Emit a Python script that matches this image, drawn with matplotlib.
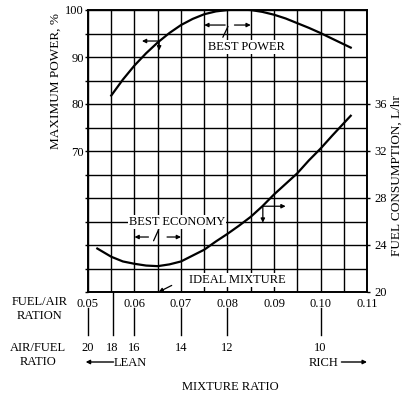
import numpy as np
import matplotlib
matplotlib.use("Agg")
import matplotlib.pyplot as plt

plt.rcParams['font.family'] = ['Liberation Serif', 'DejaVu Serif']
plt.rcParams['font.size'] = 9

# fuel/air ratio vs % of maximum power (left axis)
power_x = [0.055, 0.0575, 0.06, 0.0625, 0.065, 0.0675, 0.07, 0.0725, 0.075, 0.0775,
           0.08, 0.0825, 0.085, 0.0875, 0.09, 0.0925, 0.095, 0.0975, 0.10, 0.1025, 0.1065]
power_y = [81.8, 85.2, 88.2, 90.8, 93.1, 95.1, 96.8, 98.1, 99.1, 99.7,
           100.0, 100.1, 100.0, 99.6, 99.0, 98.2, 97.2, 96.2, 95.1, 93.9, 92.0]

# fuel/air ratio vs fuel consumption L/hr (right axis)
fuel_x = [0.052, 0.055, 0.0575, 0.06, 0.0625, 0.065, 0.0675, 0.07, 0.0725, 0.075, 0.0775,
          0.08, 0.0825, 0.085, 0.0875, 0.09, 0.0925, 0.095, 0.0975, 0.10, 0.1025, 0.1065]
fuel_y = [23.7, 23.0, 22.6, 22.4, 22.25, 22.2, 22.35, 22.6, 23.1, 23.6, 24.3,
          24.95, 25.65, 26.4, 27.3, 28.3, 29.2, 30.1, 31.2, 32.2, 33.3, 35.0]

fa_ticks = [0.05, 0.06, 0.07, 0.08, 0.09, 0.10, 0.11]
fa_labels = ['0.05', '0.06', '0.07', '0.08', '0.09', '0.10', '0.11']
power_ticks = [70, 80, 90, 100]
fuel_ticks = [20, 24, 28, 32, 36]
afr_pos = [0.05, 0.0553, 0.06, 0.07, 0.08, 0.10]
afr_labels = ['20', '18', '16', '14', '12', '10']

W, H = 412, 396
fig = plt.figure(figsize=(W/100, H/100), dpi=100)
L, R, T, B = 88, 367, 10, 292
ax = fig.add_axes([L/W, 1-B/H, (R-L)/W, (B-T)/H])
ax.set_xlim(0.05, 0.11)
ax.set_ylim(40, 100)
ax2 = ax.twinx()
ax2.set_ylim(20, 44)

ax.set_xticks(fa_ticks)
ax.set_xticklabels(fa_labels)
ax.set_xticks(np.arange(0.05, 0.1101, 0.005), minor=True)
ax.set_yticks(power_ticks)
ax.set_yticks(np.arange(40, 101, 5), minor=True)
ax.grid(True, which='both', color='black', lw=1.0)
ax.set_axisbelow(True)
ax.tick_params(axis='x', which='both', length=0, pad=4)
ax.tick_params(axis='y', which='both', length=2, width=1.0, pad=1)
ax2.set_yticks(fuel_ticks)
ax2.tick_params(axis='y', length=2, width=1.0, pad=3)
for a in (ax, ax2):
    for s in a.spines.values():
        s.set_linewidth(1.2)

ax.plot(power_x, power_y, color='black', lw=1.6)
ax2.plot(fuel_x, fuel_y, color='black', lw=1.6)

ap = dict(arrowstyle='-|>', color='black', lw=0.9, mutation_scale=6,
          shrinkA=0, shrinkB=0)
ln = dict(arrowstyle='-', color='black', lw=0.9, shrinkA=0, shrinkB=0)

# curve / axis indicators
ax.annotate('', xy=(0.0616, 93.4), xytext=(0.0653, 93.4), arrowprops=ap)
ax.annotate('', xy=(0.0653, 91.4), xytext=(0.0653, 93.4), arrowprops=ap)
ax2.annotate('', xy=(0.0925, 27.3), xytext=(0.0876, 27.3), arrowprops=ap)
ax2.annotate('', xy=(0.0876, 25.9), xytext=(0.0876, 27.3), arrowprops=ap)

box = dict(facecolor='white', edgecolor='none', pad=0.6)

# best power
ax.annotate('', xy=(0.075, 96.8), xytext=(0.0795, 96.8), arrowprops=ap)
ax.annotate('', xy=(0.085, 96.8), xytext=(0.0815, 96.8), arrowprops=ap)
ax.annotate('', xy=(0.0801, 96.5), xytext=(0.0790, 94.2), arrowprops=ln)
ax.text(0.0840, 92.1, 'BEST POWER', ha='center', va='center', bbox=box)

# best economy
ax.annotate('', xy=(0.06, 51.7), xytext=(0.0630, 51.7), arrowprops=ap)
ax.annotate('', xy=(0.07, 51.7), xytext=(0.0670, 51.7), arrowprops=ap)
ax.annotate('', xy=(0.0641, 50.9), xytext=(0.0652, 53.3), arrowprops=ln)
ax.text(0.0691, 54.9, 'BEST ECONOMY', ha='center', va='center', bbox=box)

# ideal mixture
ax.text(0.0822, 42.6, 'IDEAL MIXTURE', ha='center', va='center', bbox=box)
ax.annotate('', xy=(0.0652, 40.0), xytext=(0.0680, 41.4), arrowprops=ap)

# axis labels
ax.text((56-L)/(R-L), (B-81)/(B-T), 'MAXIMUM POWER, %', rotation=90,
        ha='center', va='center', transform=ax.transAxes, fontsize=9.5)
ax.text((397-L)/(R-L), (B-176)/(B-T), 'FUEL CONSUMPTION, L/hr', rotation=90,
        ha='center', va='center', transform=ax.transAxes, fontsize=9.5)

# air/fuel ratio scale below the axis
tr = ax.get_xaxis_transform()
def fy(py):
    return (B - py) / (B - T)
for x, lab in zip(afr_pos, afr_labels):
    top = 293 if lab == '18' else 308
    ax.plot([x, x], [fy(top), fy(335)], color='black', lw=1.0,
            transform=tr, clip_on=False)
    ax.text(x, fy(348), lab, ha='center', va='center', transform=tr)

ax.text(0.0555, fy(363), 'LEAN', ha='left', va='center', transform=tr)
ax.annotate('', xy=(0.0495, fy(362)), xytext=(0.0555, fy(362)), xycoords=tr,
            textcoords=tr, arrowprops=dict(arrowstyle='-|>', color='black',
            lw=1.0, mutation_scale=6, shrinkA=0, shrinkB=0))
ax.text(0.1038, fy(363), 'RICH', ha='right', va='center', transform=tr)
ax.annotate('', xy=(0.110, fy(362)), xytext=(0.1045, fy(362)), xycoords=tr,
            textcoords=tr, arrowprops=dict(arrowstyle='-|>', color='black',
            lw=1.0, mutation_scale=6, shrinkA=0, shrinkB=0))
ax.text(0.0805, fy(387), 'MIXTURE RATIO', ha='center', va='center', transform=tr)

fig.text(40/W, 1-302/H, 'FUEL/AIR', ha='center', va='center')
fig.text(40/W, 1-316/H, 'RATION', ha='center', va='center')
fig.text(38/W, 1-348/H, 'AIR/FUEL', ha='center', va='center')
fig.text(38/W, 1-362/H, 'RATIO', ha='center', va='center')

fig.savefig('out.png', dpi=100)
